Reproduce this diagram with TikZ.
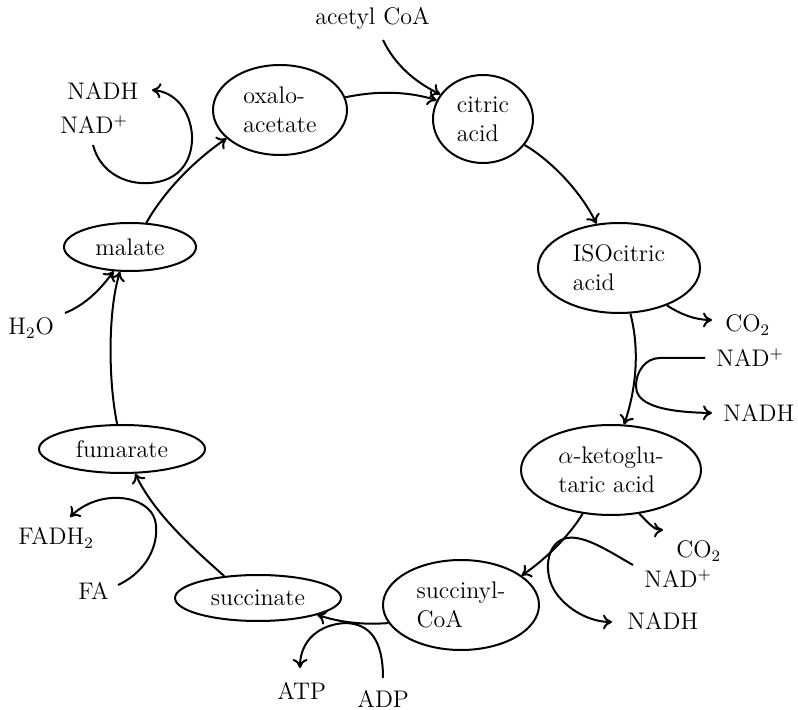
\documentclass[tikz,border=0pt]{standalone}
\usetikzlibrary{shapes.geometric,arrows.meta}
\newcommand{\fs}{\fontsize{12}{14.5}\selectfont}
\begin{document}
\begin{tikzpicture}[x=0.5pt,y=-0.5pt,
  cyc/.style={draw, ellipse, line width=1pt, inner sep=0pt, align=left, font=\fs},
  lab/.style={inner sep=0pt, font=\fs, anchor=base west},
  arr/.style={-{To[length=4.5pt,width=7.5pt]}, line width=1pt}]
\useasboundingbox (0,0) rectangle (798,710);
% metabolites
\node[cyc, minimum width=67pt, minimum height=45pt] (oxa) at (280,110) {oxalo-\\acetate};
\node[cyc, minimum width=50pt, minimum height=44pt] (cit) at (483,119) {citric\\acid};
\node[cyc, minimum width=81pt, minimum height=45pt] (iso) at (619,268) {ISOcitric\\acid};
\node[cyc, minimum width=90pt, minimum height=45pt] (akg) at (611,470) {$\alpha$-ketoglu-\\taric acid};
\node[cyc, minimum width=78pt, minimum height=45pt] (sca) at (461,605) {succinyl-\\CoA};
\node[cyc, minimum width=83pt, minimum height=23pt] (suc) at (258,598) {succinate};
\node[cyc, minimum width=83pt, minimum height=24pt] (fum) at (122,449) {fumarate};
\node[cyc, minimum width=66pt, minimum height=24pt] (mal) at (130,247) {malate};
% labels
\node[lab] (acoa) at (315,25) {acetyl CoA};
\node[lab] (co2a) at (725,332) {CO$_2$};
\node[lab] (nada) at (716,367) {NAD\textsuperscript{+}};
\node[lab] (nadha) at (723,422) {NADH};
\node[lab] (co2b) at (676,558) {CO$_2$};
\node[lab] (nadb) at (644,588) {NAD\textsuperscript{+}};
\node[lab] (nadhb) at (627,630) {NADH};
\node[lab] (atp) at (277,699) {ATP};
\node[lab] (adp) at (357,707) {ADP};
\node[lab] (fa) at (78,600) {FA};
\node[lab] (fadh) at (18,545) {FADH$_2$};
\node[lab] (h2o) at (8,335) {H$_2$O};
\node[lab] (nadhc) at (67,100) {NADH};
\node[lab] (nadc) at (60,134) {NAD\textsuperscript{+}};
% free ends
\coordinate (sAc) at (383,40);
\coordinate (eCa) at (712,320);
\coordinate (sNa) at (705,358);
\coordinate (eNa) at (712,413);
\coordinate (eCb) at (663,530);
\coordinate (sNb) at (633,565);
\coordinate (eNb) at (612,622);
\coordinate (sAdp) at (383,678);
\coordinate (eAtp) at (300,668);
\coordinate (sFa) at (118,585);
\coordinate (eFad) at (70,517);
\coordinate (sH) at (65,313);
\coordinate (sNc) at (93,145);
\coordinate (eNc) at (152,90);
% cycle
\draw[arr] (oxa.11) .. controls (380,90) and (410,92) .. (cit.158);
\draw[arr] (sAc) .. controls (395,65) and (415,82) .. (cit.150);
\draw[arr] (cit.-32) .. controls (550,160) and (580,190) .. (iso.117);
\draw[arr] (iso.-76) .. controls (640,350) and (636,390) .. (akg.74);
\draw[arr] (iso.-38) .. controls (680,314) and (695,320) .. (eCa);
\draw[arr] (sNa) -- (660,358) .. controls (645,358) and (636,372) .. (636,386) .. controls (636,400) and (650,412) .. (eNa);
\draw[arr] (akg.237) .. controls (570,535) and (545,560) .. (sca.26);
\draw[arr] (akg.-57) .. controls (650,525) and (655,530) .. (eCb);
\draw[arr] (sNb) .. controls (610,552) and (585,535) .. (567,538) .. controls (545,542) and (543,575) .. (556,593) .. controls (568,610) and (590,622) .. (eNb);
\draw[arr] (sca.194) .. controls (360,625) and (340,622) .. (suc.344);
\draw[arr] (sAdp) .. controls (383,640) and (370,624) .. (346,623) .. controls (320,624) and (300,640) .. (eAtp);
\draw[arr] (suc.147) .. controls (195,550) and (155,515) .. (fum.-62);
\draw[arr] (sFa) .. controls (150,570) and (160,540) .. (155,520) .. controls (148,495) and (100,488) .. (eFad);
\draw[arr] (fum.101) .. controls (108,380) and (108,310) .. (mal.248);
\draw[arr] (sH) .. controls (85,305) and (100,290) .. (mal.236);
\draw[arr] (mal.56) .. controls (165,190) and (195,160) .. (oxa.208);
\draw[arr] (sNc) .. controls (100,172) and (125,185) .. (150,183) .. controls (180,181) and (193,160) .. (192,135) .. controls (190,110) and (175,92) .. (eNc);
\end{tikzpicture}
\end{document}
